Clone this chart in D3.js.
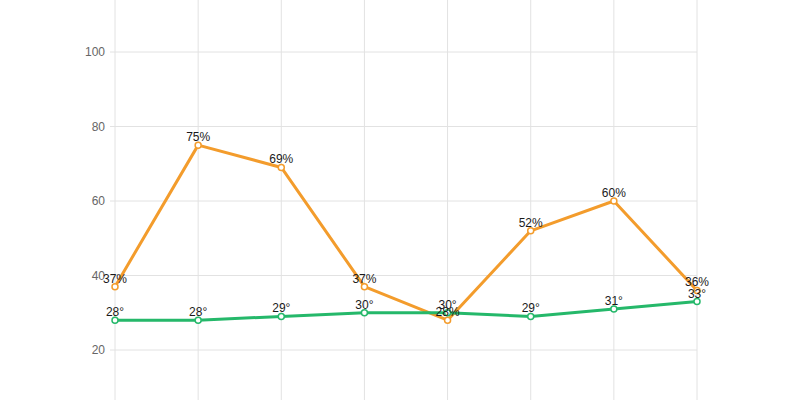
<!DOCTYPE html>
<html><head><meta charset="utf-8">
<script src="https://cdn.jsdelivr.net/npm/d3@7/dist/d3.min.js"></script>
<style>html,body{margin:0;padding:0;background:#fff;}svg{display:block;}</style>
</head><body>
<svg id="c" width="800" height="400"></svg>
<script>
const categories = [0,1,2,3,4,5,6,7];
const humidity = [37, 75, 69, 37, 28, 52, 60, 36];
const temperature = [28, 28, 29, 30, 30, 29, 31, 33];
const yTicks = [20, 40, 60, 80, 100];

const svg = d3.select('#c');
const x = d3.scalePoint().domain(categories).range([115, 697]);
const y = d3.scaleLinear().domain([0, 120]).range([424.5, -22.5]);

// grid
const grid = svg.append('g');
grid.selectAll('line.v').data(categories).enter().append('line')
  .attr('x1', d => x(d)).attr('x2', d => x(d)).attr('y1', -30).attr('y2', 430)
  .attr('stroke', '#e2e2e2').attr('stroke-width', 1);
grid.selectAll('line.h').data(yTicks).enter().append('line')
  .attr('x1', 110).attr('x2', 697).attr('y1', d => y(d)).attr('y2', d => y(d))
  .attr('stroke', '#e2e2e2').attr('stroke-width', 1);

const yAxis = svg.append('g').attr('transform', 'translate(115,0)')
  .call(d3.axisLeft(y).tickValues(yTicks).tickSize(0).tickPadding(10));
yAxis.select('.domain').remove();
yAxis.selectAll('text').attr('fill', '#666').style('font-family', 'Liberation Sans, Arial, sans-serif').style('font-size', '12px');

function series(data, color) {
  const line = d3.line().x((d, i) => x(categories[i])).y(d => y(d));
  svg.append('path').datum(data).attr('d', line).attr('fill', 'none')
    .attr('stroke', color).attr('stroke-width', 3).attr('stroke-linejoin', 'round');
  svg.append('g').selectAll('circle').data(data).enter().append('circle')
    .attr('cx', (d, i) => x(categories[i])).attr('cy', d => y(d)).attr('r', 3)
    .attr('fill', '#fff').attr('stroke', color).attr('stroke-width', 1.5);
}
series(humidity, '#f39c2c');
series(temperature, '#25b86a');

function labels(data, suffix) {
  svg.append('g').selectAll('text').data(data).enter().append('text')
    .attr('x', (d, i) => x(categories[i])).attr('y', d => y(d) - 4)
    .attr('text-anchor', 'middle').attr('fill', '#1a1a1a')
    .style('font-family', 'Liberation Sans, Arial, sans-serif').style('font-size', '12px')
    .text(d => d + suffix);
}
labels(humidity, '%');
labels(temperature, '°');
</script>
</body></html>
